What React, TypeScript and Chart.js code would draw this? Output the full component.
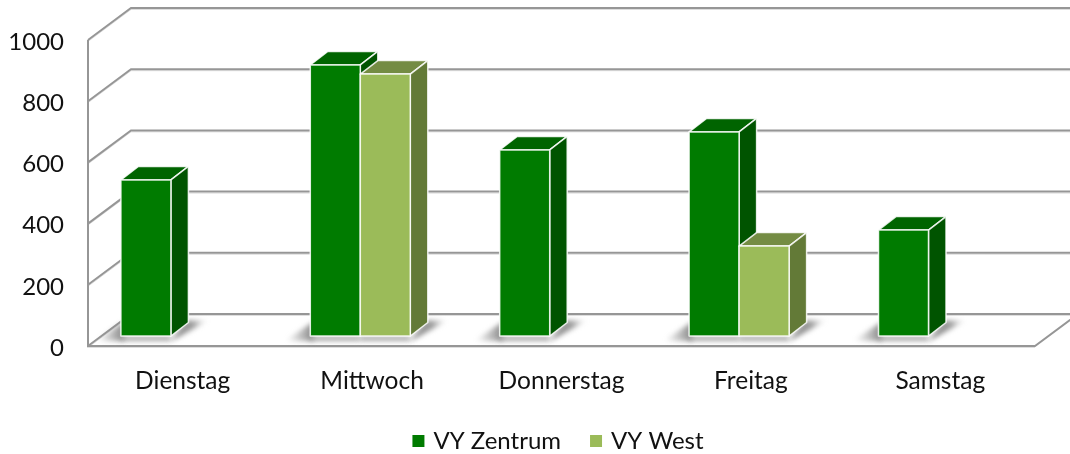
import React, { useEffect, useRef } from "react";
import { Chart, registerables } from "chart.js";

Chart.register(...registerables);

const categories = ["Dienstag", "Mittwoch", "Donnerstag", "Freitag", "Samstag"];
const zentrum = [510, 886, 608, 667, 346];
const west = [null, 856, null, 294, null];
const seriesNames = ["VY Zentrum", "VY West"];
const frontColors = ["#007B00", "#9BBB59"];
const topColors = ["#006400", "#748C43"];
const sideColors = ["#005400", "#637A37"];
const tickValues = [0, 200, 400, 600, 800, 1000];

const FONT = "Lato, 'Open Sans', sans-serif";
const WALL_DX = 43;
const WALL_DY = 32;
const SHIFT_X = -11.8;
const SHIFT_Y = -10;
const DEPTH_X = 17.5;
const DEPTH_Y = 13.5;

const legendShift = {
  id: "legendShift",
  afterLayout(chart: any) {
    const l = chart.legend;
    l.left += 42;
    l.right += 42;
    l.top -= 11;
    l.bottom -= 11;
  },
};

const bars3d = {
  id: "bars3d",
  beforeDatasetsDraw(chart: any) {
    const { ctx, chartArea, scales } = chart;
    const { left, right, bottom } = chartArea;
    const yScale = scales.y;
    ctx.save();

    // walls and floor
    const line = (pts: number[][], color: string, w: number) => {
      ctx.beginPath();
      pts.forEach((p, i) => (i ? ctx.lineTo(p[0], p[1]) : ctx.moveTo(p[0], p[1])));
      ctx.strokeStyle = color;
      ctx.lineWidth = w;
      ctx.lineJoin = "miter";
      ctx.stroke();
    };
    tickValues.forEach((v) => {
      const y = yScale.getPixelForValue(v);
      const pts = [
        [left, y],
        [left + WALL_DX, y - WALL_DY],
        [1100, y - WALL_DY],
      ];
      line(pts.map((p) => [p[0], p[1] + 1.5]), "#DEDEDE", 1);
      line(pts, "#969696", 2);
    });
    const top0 = yScale.getPixelForValue(1000);
    line([[left, top0], [left, bottom]], "#969696", 2);
    line([[left - 1, bottom + 1.5], [right, bottom + 1.5]], "#DEDEDE", 1);
    line([[left - 1, bottom], [right, bottom], [right + WALL_DX, bottom - WALL_DY]], "#969696", 2);

    const metas = [0, 1].map((i) => chart.getDatasetMeta(i));
    const sets = chart.data.datasets;

    // floor shadows
    metas.forEach((meta: any, s: number) => {
      meta.data.forEach((el: any, j: number) => {
        if (sets[s].data[j] == null) return;
        const x0 = el.x - el.width / 2 + SHIFT_X;
        const x1 = el.x + el.width / 2 + SHIFT_X;
        const b = el.base + SHIFT_Y;
        ctx.save();
        ctx.filter = "blur(2.5px)";
        if (s === 0) {
          const g = ctx.createLinearGradient(x0 - 24, 0, x0 + 2, 0);
          g.addColorStop(0, "rgba(140,140,140,0)");
          g.addColorStop(1, "rgba(125,125,125,0.9)");
          ctx.fillStyle = g;
          ctx.beginPath();
          ctx.moveTo(x0 - 26, b + 5);
          ctx.lineTo(x0 + 3, b + 5);
          ctx.lineTo(x0 + 3, b - 14);
          ctx.closePath();
          ctx.fill();
        }
        ctx.fillStyle = "rgba(150,150,150,0.8)";
        ctx.fillRect(x0, b, x1 - x0, 5);
        const hasNext = s === 0 && sets[1].data[j] != null;
        if (!hasNext) {
          const g2 = ctx.createLinearGradient(x1, 0, x1 + DEPTH_X + 20, 0);
          g2.addColorStop(0, "rgba(120,120,120,0.95)");
          g2.addColorStop(0.6, "rgba(135,135,135,0.8)");
          g2.addColorStop(1, "rgba(190,190,190,0)");
          ctx.fillStyle = g2;
          ctx.beginPath();
          ctx.moveTo(x1, b + 5);
          ctx.lineTo(x1 + 6, b + 2);
          ctx.lineTo(x1 + DEPTH_X + 20, b - DEPTH_Y - 2);
          ctx.lineTo(x1 + DEPTH_X - 2, b - DEPTH_Y - 2);
          ctx.closePath();
          ctx.fill();
        }
        ctx.restore();
      });
    });

    // bars, series by series
    metas.forEach((meta: any, s: number) => {
      meta.data.forEach((el: any, j: number) => {
        if (sets[s].data[j] == null) return;
        const x0 = el.x - el.width / 2 + SHIFT_X;
        const x1 = el.x + el.width / 2 + SHIFT_X;
        const y = el.y + SHIFT_Y;
        const b = el.base + SHIFT_Y;
        const face = (pts: number[][], fill: string) => {
          ctx.beginPath();
          pts.forEach((p, i) => (i ? ctx.lineTo(p[0], p[1]) : ctx.moveTo(p[0], p[1])));
          ctx.closePath();
          ctx.fillStyle = fill;
          ctx.fill();
          ctx.strokeStyle = "rgba(255,255,255,0.85)";
          ctx.lineWidth = 1.5;
          ctx.lineJoin = "round";
          ctx.stroke();
        };
        face([[x0, y], [x0 + DEPTH_X, y - DEPTH_Y], [x1 + DEPTH_X, y - DEPTH_Y], [x1, y]], topColors[s]);
        face([[x1, y], [x1 + DEPTH_X, y - DEPTH_Y], [x1 + DEPTH_X, b - DEPTH_Y], [x1, b]], sideColors[s]);
        face([[x0, y], [x1, y], [x1, b], [x0, b]], frontColors[s]);
      });
    });
    ctx.restore();
    return false;
  },
};

export default function App() {
  const ref = useRef<HTMLCanvasElement>(null);
  useEffect(() => {
    const chart = new Chart(ref.current!, {
      type: "bar",
      plugins: [bars3d, legendShift],
      data: {
        labels: categories,
        datasets: [
          { label: seriesNames[0], data: zentrum, backgroundColor: frontColors[0], borderWidth: 0, pointStyle: "rect" },
          { label: seriesNames[1], data: west, backgroundColor: frontColors[1], borderWidth: 0, pointStyle: "rect" },
        ],
      },
      options: {
        responsive: false,
        animation: false,
        datasets: { bar: { categoryPercentage: 0.528, barPercentage: 1 } },
        layout: { padding: { left: 0, right: 35, top: 40, bottom: -20 } },
        plugins: {
          tooltip: { enabled: false },
          legend: {
            position: "bottom",
            labels: {
              usePointStyle: true,
              boxWidth: 6,
              boxHeight: 12,
              padding: 32,
              color: "#111111",
              font: { family: FONT, size: 24 },
            },
          },
        },
        scales: {
          x: {
            grid: { display: false, drawTicks: false },
            border: { display: false },
            ticks: { color: "#111111", padding: 20, font: { family: FONT, size: 24.5 } },
            afterFit: (s: any) => {
              s.height = 62;
            },
          },
          y: {
            min: 0,
            max: 1000,
            grid: { display: false, drawTicks: false },
            border: { display: false },
            ticks: {
              stepSize: 200,
              color: "#111111",
              padding: 24,
              labelOffset: 2,
              font: { family: FONT, size: 24 },
              callback: (v: any) => String(v),
            },
            afterFit: (s: any) => {
              s.width = 88;
            },
          },
        },
      },
    } as any);
    return () => chart.destroy();
  }, []);
  return (
    <div style={{ position: "absolute", left: 0, top: 0, width: 1070, height: 454, background: "#fff" }}>
      <canvas ref={ref} width={1070} height={454} style={{ display: "block" }} />
    </div>
  );
}
